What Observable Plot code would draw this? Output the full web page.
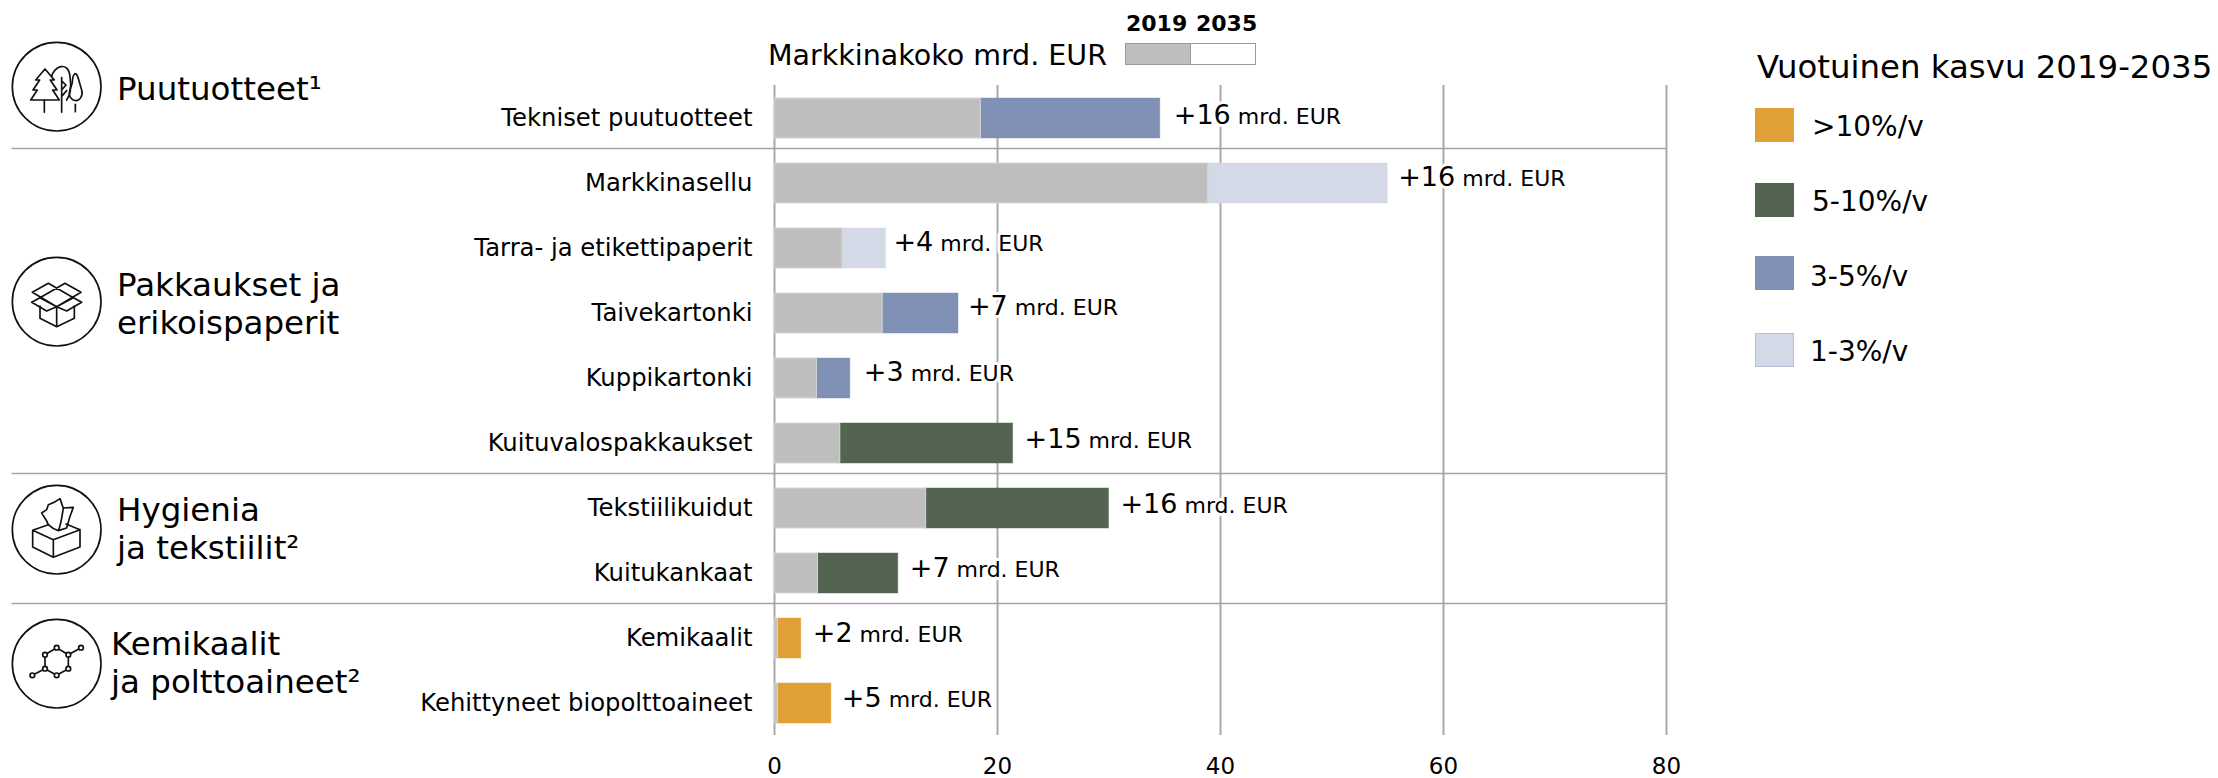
<!doctype html>
<html><head><meta charset="utf-8">
<script src="https://cdn.jsdelivr.net/npm/d3@7"></script>
<script src="https://cdn.jsdelivr.net/npm/@observablehq/plot@0.6"></script>
<style>
html,body{margin:0;padding:0;background:#fff}
#wrap{position:relative;width:2218px;height:778px;font-family:"DejaVu Sans",sans-serif;color:#000;overflow:hidden}
#wrap>svg{display:block}
.abs{position:absolute;white-space:nowrap;line-height:1}
.sw{position:absolute;box-sizing:border-box}
.icon{position:absolute;width:110px;height:105px;fill:none;stroke:#111;stroke-width:5;stroke-linejoin:round;stroke-linecap:round}
</style></head><body><div id="wrap"></div>
<script>
const categories=["Tekniset puutuotteet","Markkinasellu","Tarra- ja etikettipaperit","Taivekartonki","Kuppikartonki","Kuituvalospakkaukset","Tekstiilikuidut","Kuitukankaat","Kemikaalit","Kehittyneet biopolttoaineet"];
const size2019=[18.5,38.9,6.1,9.7,3.8,5.9,13.6,3.9,0.3,0.3];
const size2035=[34.6,55,10,16.5,6.8,21.4,30,11.1,2.4,5.1];
const growthLabels=["+16","+16","+4","+7","+3","+15","+16","+7","+2","+5"];
const growthClass=["3-5%/v","1-3%/v","1-3%/v","3-5%/v","3-5%/v","5-10%/v","5-10%/v","5-10%/v",">10%/v",">10%/v"];
const legendClasses=[">10%/v","5-10%/v","3-5%/v","1-3%/v"];
const legendColors=["#e0a035","#536550","#8091b5","#d3d9e6"];
const separatorsAfter=["Tekniset puutuotteet","Kuituvalospakkaukset","Kuitukankaat"];
const xTicks=[0,20,40,60,80];
const rows=categories.map((c,i)=>({c,a:size2019[i],b:size2035[i],g:growthLabels[i],k:growthClass[i]}));
const nudgeX=[2,-1,-4,-2,2,0,0,0,0,-1], nudgeY=[0,-3,-3,-4,-3,-1,-1,-2,-2,-2];
const plot=Plot.plot({
  width:2218,height:778,marginLeft:774,marginRight:552,marginTop:85,marginBottom:43,
  style:{fontFamily:'"DejaVu Sans",sans-serif',fontSize:"22px",color:"#000",background:"#fff"},
  x:{domain:[0,80]},
  y:{domain:categories,paddingInner:0.385,paddingOuter:0.1925},
  color:{domain:legendClasses,range:legendColors},
  marks:[
    Plot.ruleX(xTicks,{x:d=>d,stroke:"#a9a9a9",strokeWidth:2}),
    Plot.ruleY(separatorsAfter,{y:d=>d,x1:-68.4,x2:80,dy:30,stroke:"#a6a6a6",strokeWidth:1.6}),
    Plot.barX(rows,{y:"c",x1:d=>d.a,x2:"b",fill:"k",stroke:"k",strokeOpacity:0.45,strokeWidth:1}),
    Plot.barX(rows,{y:"c",x1:0,x2:"a",fill:"#bebebe",stroke:"#d6d6d6",strokeWidth:1}),
    Plot.text(rows,{y:"c",x:"b",text:d=>d.g+" mrd. EUR",textAnchor:"start",dx:11.5,dy:-2,fill:"#000",stroke:"#fff",strokeWidth:6,fontSize:22}),
    Plot.axisY({tickSize:0,tickPadding:22,label:null,fontSize:24.3}),
    Plot.axisX({ticks:xTicks,tickSize:0,tickPadding:22,label:null,fontSize:23,anchor:"bottom"})
  ]
});
d3.select(plot).selectAll("text").filter(function(){return this.textContent.includes("mrd. EUR");}).each(function(_,j){
  const t=d3.select(this),s=t.text(),i=s.indexOf(" ");
  t.text(null);
  t.append("tspan").style("font-size","27px").attr("dx",nudgeX[j]).attr("dy",nudgeY[j]).text(s.slice(0,i));
  t.append("tspan").style("font-size","22px").text(s.slice(i));
});
const wrap=document.getElementById("wrap");
wrap.appendChild(plot);
function label(txt,x,y,fs,extra=""){const d=document.createElement("div");d.className="abs";d.style.cssText=`left:${x}px;top:${y-fs/2}px;font-size:${fs}px;${extra}`;d.textContent=txt;wrap.appendChild(d);}
function box(x,y,w,h,bg,bd){const d=document.createElement("div");d.className="sw";d.style.cssText=`left:${x}px;top:${y}px;width:${w}px;height:${h}px;background:${bg};${bd?`border:1px solid ${bd}`:""}`;wrap.appendChild(d);}
const groups=[["Puutuotteet¹",117,89],["Pakkaukset ja",117,285],["erikoispaperit",117,323],["Hygienia",117,510],["ja tekstiilit²",117,548],["Kemikaalit",111,644],["ja polttoaineet²",111,682]];
groups.forEach(g=>label(g[0],g[1],g[2],32.5));
label("Markkinakoko mrd. EUR",768,56,28.5);
label("2019",1126,24,22,"font-weight:bold");
label("2035",1196,24,22,"font-weight:bold");
box(1125,43,66,22,"#bebebe","#9a9a9a");box(1190,43,66,22,"#fff","#9a9a9a");
label("Vuotuinen kasvu 2019-2035",1757,67,32.4);
const ys=[108,183,256,333],ty=[127,202,277,352],tx=[1812,1812,1810,1810];
legendClasses.forEach((k,i)=>{box(1755,ys[i],39,34,legendColors[i],i==3?"#b4c0da":null);label(k,tx[i],ty[i],28);});
// Decorative category pictograms (not data)
const ring='<circle cx="155" cy="155" r="133"/>';
const icons=[
 [35,ring+'<path d="M120 102L92 135H104L84 165H97L77 195H163L143 165H156L136 135H148Z"/><path d="M118 195V232"/><path d="M140 125C145 95 190 75 195 125C198 145 200 175 185 195"/><path d="M170 128V232M170 165L183 150L172 140M172 182L185 167"/><path d="M208 118C200 125 205 135 200 150C192 170 188 185 205 195C225 203 235 180 230 165C225 150 222 135 218 125C215 115 210 115 208 118Z"/><path d="M211 208V230"/>'],
 [250,ring+'<path d="M82 127L130 100L205 143L155 170L82 127ZM228 127L180 100L105 143L155 170L228 127Z"/><path d="M105 143L80 157L125 183L155 170L185 183L230 157L205 143"/><path d="M105 168V205L155 230L208 205V168M155 170V230"/>'],
 [478,ring+'<path d="M83 157L145 185L225 155L183 138M83 157L83 207L145 238L225 207V155M145 185V238M83 157L130 140"/><path d="M130 140C125 125 115 115 110 105L125 95L130 80C145 75 155 70 165 62C170 75 172 85 175 90L205 88C198 105 190 130 185 150L160 158C150 155 140 150 130 140ZM175 90C172 110 168 140 160 158"/>'],
 [612,ring+'<path d="M155 107L190 128V170L155 190L120 170V128ZM190 128L228 107M120 170L82 190"/><g fill="#fff"><circle cx="155" cy="107" r="7"/><circle cx="190" cy="128" r="7"/><circle cx="190" cy="170" r="7"/><circle cx="155" cy="190" r="7"/><circle cx="120" cy="170" r="7"/><circle cx="120" cy="128" r="7"/><circle cx="228" cy="107" r="7"/><circle cx="82" cy="190" r="7"/></g>']
];
icons.forEach(([top,body])=>{
  const holder=document.createElement("div");
  holder.innerHTML=`<svg class="icon" style="left:5px;top:${top}px" viewBox="0 0 330 315">${body}</svg>`;
  wrap.appendChild(holder.firstChild);
});
</script></body></html>
